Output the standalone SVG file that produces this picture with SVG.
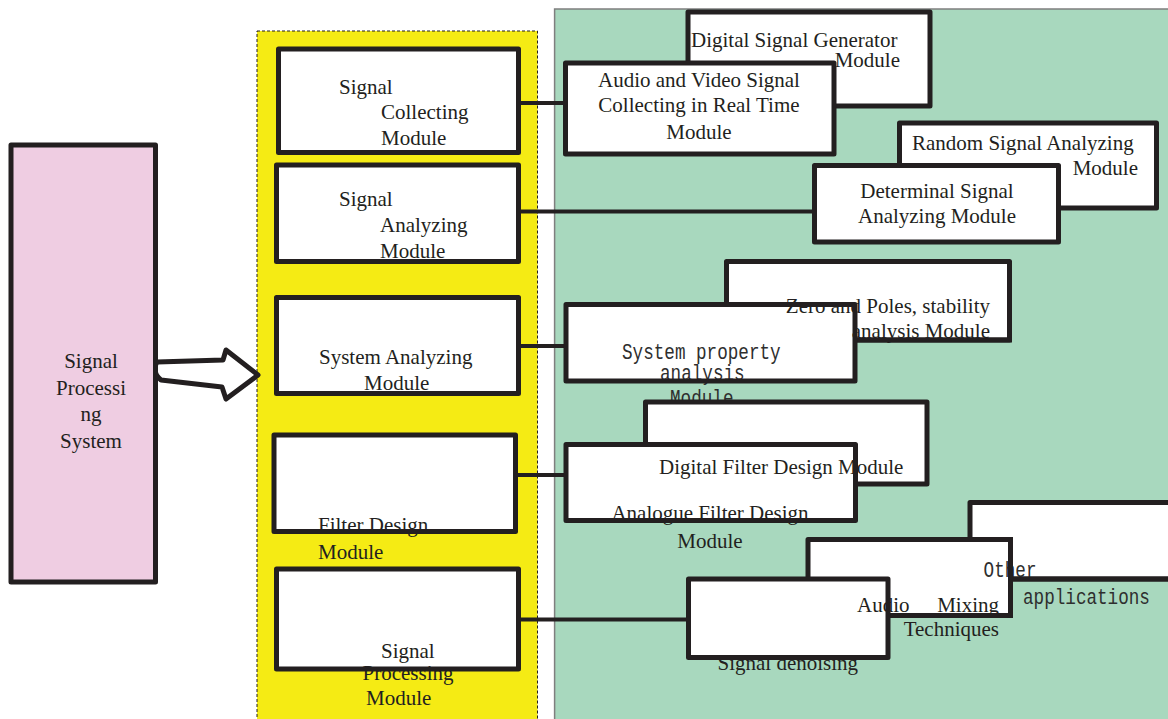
<svg xmlns="http://www.w3.org/2000/svg" width="1168" height="719" viewBox="0 0 1168 719">
<style>
.t{font-family:"Liberation Serif","Times New Roman",serif;font-size:21px;fill:#231f20}
.m{font-family:"Liberation Mono","Courier New",monospace;font-size:21.5px;fill:#2e2e2e}
.c{text-anchor:middle}
.e{text-anchor:end}
.f{fill:#ffffff;stroke:none}
.s{fill:none;stroke:#231f20;stroke-width:5;stroke-linejoin:round}
.b{fill:#ffffff;stroke:#231f20;stroke-width:5;stroke-linejoin:round}
.ln{stroke:#231f20;stroke-width:4;fill:none}
.ov{stroke:#231f20;stroke-width:5;fill:none}
</style>
<rect x="0" y="0" width="1168" height="719" fill="#ffffff"/>
<g id="panels">
<rect x="257" y="31" width="280.5" height="700" fill="#f5eb14" stroke="#231f20" stroke-width="1" stroke-dasharray="3,2"/>
<rect x="554.6" y="9" width="630" height="720" fill="#a8d8be" stroke="#7f7f7f" stroke-width="1.5"/>
</g>
<g id="connectors">
<line class="ln" x1="518" y1="103" x2="566" y2="103"/>
<line class="ln" x1="518" y1="211.5" x2="815" y2="211.5"/>
<line class="ln" x1="518" y1="346" x2="566" y2="346"/>
<line class="ln" x1="515" y1="475" x2="566" y2="475"/>
<line class="ln" x1="518" y1="619.5" x2="689" y2="619.5"/>
<path d="M157,362 L223,360 L226,350 L258,375 L226,399 L222,387 L161,380 Q151,372 157,362 Z" fill="#ffffff" stroke="#231f20" stroke-width="5" stroke-linejoin="round"/>
</g>
<g id="signal-processing-system">
<rect x="11" y="145" width="144.5" height="437" fill="#efcde2" stroke="#231f20" stroke-width="5" stroke-linejoin="round"/>
<text class="t c" x="91" y="368">Signal</text>
<text class="t c" x="91" y="395">Processi</text>
<text class="t c" x="91" y="421">ng</text>
<text class="t c" x="91" y="448">System</text>
</g>
<g id="signal-collecting">
<rect class="f" x="278.5" y="49" width="240" height="103.5"/>
<text class="t" x="339" y="94">Signal</text>
<text class="t" x="381" y="119">Collecting</text>
<text class="t" x="381" y="145">Module</text>
<rect class="s" x="278.5" y="49" width="240" height="103.5"/>
</g>
<g id="signal-analyzing">
<rect class="f" x="276.5" y="165" width="242" height="96.5"/>
<text class="t" x="339" y="206">Signal</text>
<text class="t" x="380" y="232">Analyzing</text>
<text class="t" x="380" y="258">Module</text>
<rect class="s" x="276.5" y="165" width="242" height="96.5"/>
</g>
<g id="system-analyzing">
<rect class="f" x="276.5" y="297.5" width="242" height="96"/>
<text class="t" x="319" y="364">System Analyzing</text>
<text class="t" x="364" y="390">Module</text>
<rect class="s" x="276.5" y="297.5" width="242" height="96"/>
</g>
<g id="filter-design">
<rect class="f" x="274" y="435" width="241.5" height="96.5"/>
<text class="t" x="318" y="532">Filter Design</text>
<text class="t" x="318" y="559">Module</text>
<rect class="s" x="274" y="435" width="241.5" height="96.5"/>
</g>
<g id="signal-processing-module">
<rect class="f" x="276.5" y="569" width="242" height="100"/>
<text class="t" x="381" y="658">Signal</text>
<text class="t" x="362.5" y="680">Processing</text>
<text class="t" x="366" y="705">Module</text>
<rect class="s" x="276.5" y="569" width="242" height="100"/>
</g>
<g id="digital-signal-generator">
<rect class="b" x="688" y="12" width="242" height="94"/>
<text class="t" x="691" y="47">Digital Signal Generator</text>
<text class="t e" x="900" y="67">Module</text>
</g>
<g id="audio-video-collecting">
<rect class="b" x="565.5" y="63" width="268.5" height="91"/>
<text class="t c" x="699" y="87">Audio and Video Signal</text>
<text class="t c" x="699" y="112">Collecting in Real Time</text>
<text class="t c" x="699" y="139">Module</text>
</g>
<g id="random-signal-analyzing">
<rect class="b" x="899.5" y="123" width="257" height="85"/>
<text class="t" x="912" y="150">Random Signal Analyzing</text>
<text class="t e" x="1138" y="175">Module</text>
</g>
<g id="determinal-signal-analyzing">
<rect class="b" x="814.5" y="165.5" width="244" height="76.5"/>
<text class="t c" x="937" y="198">Determinal Signal</text>
<text class="t c" x="937" y="223">Analyzing Module</text>
</g>
<g id="zero-poles">
<rect class="b" x="726.5" y="261.5" width="283" height="78.5"/>
</g>
<g id="system-property">
<rect class="f" x="566" y="304.5" width="289" height="76.5"/>
</g>
<g id="zero-poles-label">
<text class="t e" x="990" y="313">Zero and Poles, stability</text>
<text class="t e" x="990" y="338">analysis Module</text>
<line class="ov" x1="857" y1="340" x2="1012" y2="340"/>
</g>
<g id="system-property-label">
<text class="m" transform="translate(622,359) scale(0.82,1)">System property</text>
<text class="m" transform="translate(660,380) scale(0.82,1)">analysis</text>
<text class="m" transform="translate(670,405) scale(0.82,1)">Module</text>
<rect class="s" x="566" y="304.5" width="289" height="76.5"/>
</g>
<g id="digital-filter-design">
<rect class="b" x="645.5" y="402" width="281.5" height="82"/>
</g>
<g id="analogue-filter-design">
<rect class="f" x="566" y="444.5" width="289.5" height="76"/>
<text class="t" x="659" y="474">Digital Filter Design Module</text>
<text class="t c" x="710" y="520">Analogue Filter Design</text>
<text class="t c" x="710" y="548">Module</text>
<rect class="s" x="566" y="444.5" width="289.5" height="76"/>
</g>
<g id="other-applications">
<rect class="b" x="970" y="502.5" width="220" height="76.5"/>
</g>
<g id="audio-mixing">
<rect class="b" x="808" y="539.5" width="202.5" height="76"/>
</g>
<g id="signal-denoising">
<rect class="f" x="688.5" y="579" width="199.5" height="78.5"/>
<text class="m" transform="translate(983.6,577) scale(0.82,1)">Other</text>
<text class="m" transform="translate(1023,604) scale(0.82,1)">applications</text>
<text class="t" x="857" y="612">Audio</text>
<text class="t e" x="999" y="612">Mixing</text>
<text class="t e" x="999" y="636">Techniques</text>
<text class="t" x="717.5" y="670">Signal denoising</text>
<rect class="s" x="688.5" y="579" width="199.5" height="78.5"/>
<line class="ov" x1="1010.5" y1="537" x2="1010.5" y2="618"/>
<line class="ov" x1="1013" y1="579" x2="1180" y2="579"/>
</g>
</svg>
